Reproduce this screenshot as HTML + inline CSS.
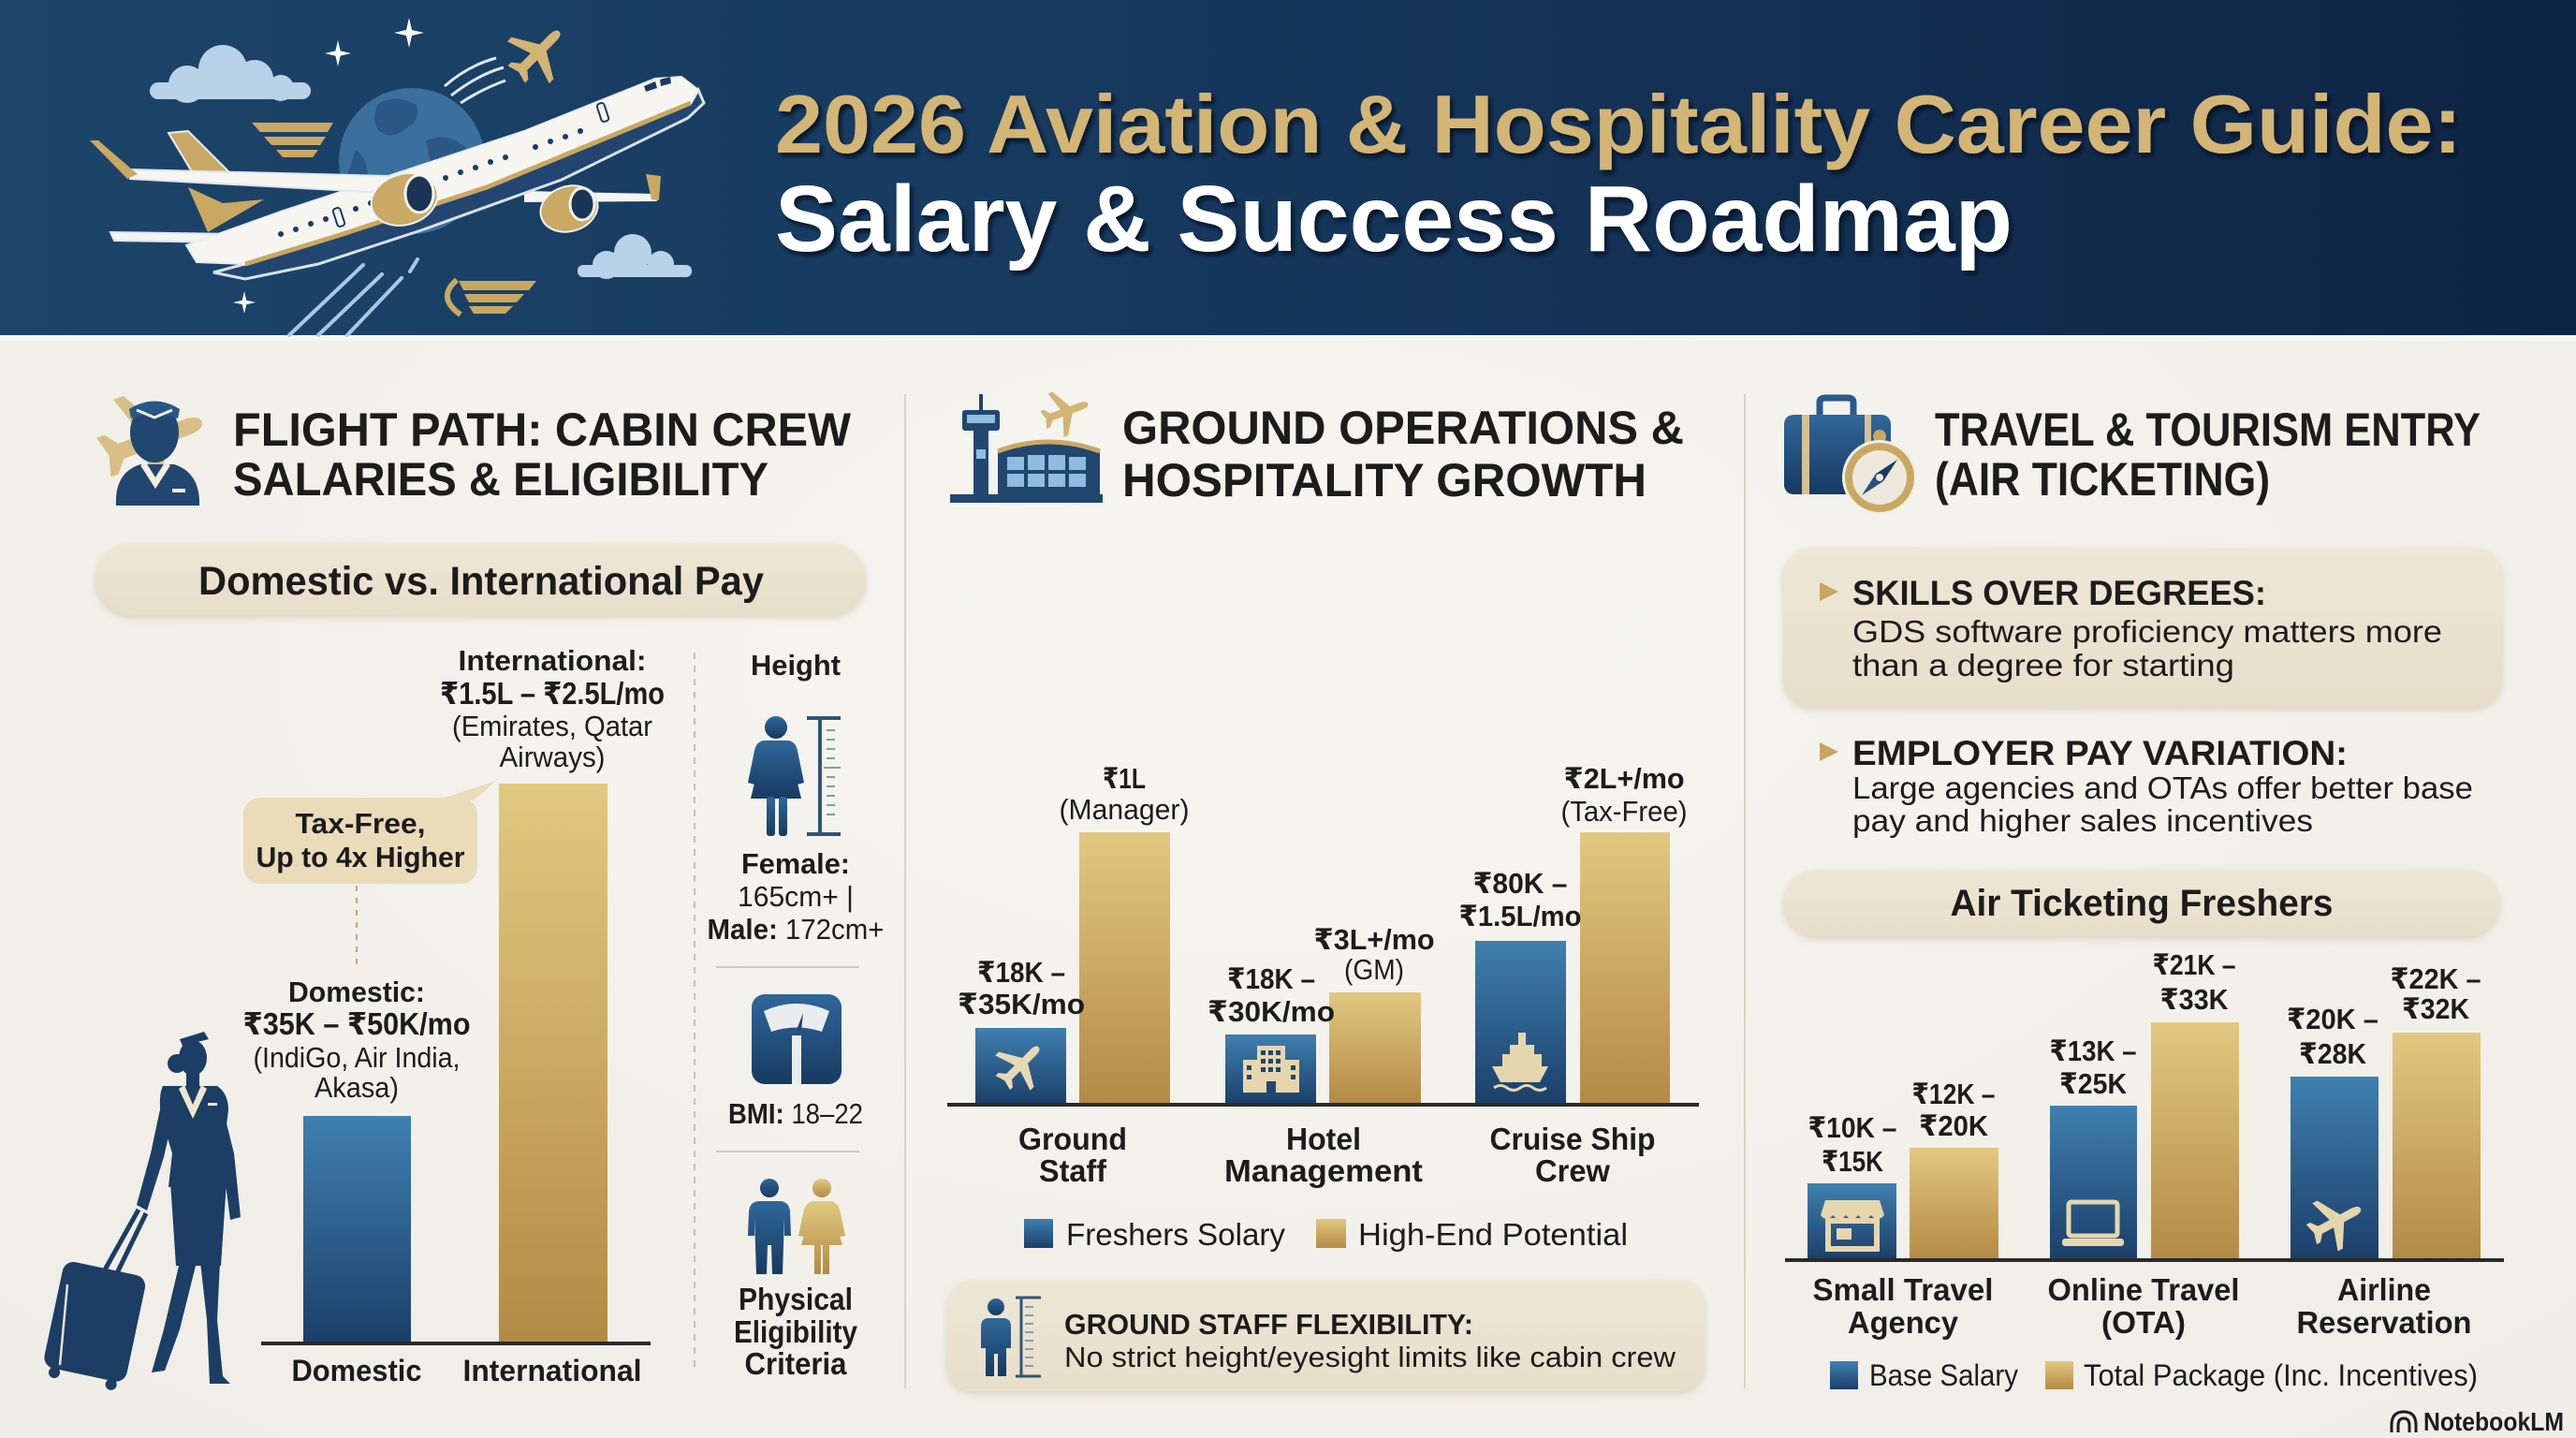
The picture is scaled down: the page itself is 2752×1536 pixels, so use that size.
<!DOCTYPE html>
<html><head><meta charset="utf-8">
<style>
html,body{margin:0;padding:0;background:#f3f2ec;}
svg{display:block;}
text{font-family:"Liberation Sans","DejaVu Sans",sans-serif;fill:#1c1c1c;}
.b{font-weight:bold;}
.r{font-weight:normal;}
</style></head><body>
<svg xmlns="http://www.w3.org/2000/svg" xmlns:xlink="http://www.w3.org/1999/xlink" width="2752" height="1536" viewBox="0 0 2752 1536">
<defs>
<linearGradient id="hdr" x1="0" y1="0" x2="1" y2="0">
 <stop offset="0" stop-color="#1d4569"/>
 <stop offset="0.4" stop-color="#173a5f"/>
 <stop offset="1" stop-color="#0e2444"/>
</linearGradient>
<linearGradient id="blue" x1="0" y1="0" x2="0" y2="1">
 <stop offset="0" stop-color="#3f80b0"/>
 <stop offset="1" stop-color="#1b3f69"/>
</linearGradient>
<linearGradient id="gold" x1="0" y1="0" x2="0" y2="1">
 <stop offset="0" stop-color="#e2c880"/>
 <stop offset="1" stop-color="#b38a45"/>
</linearGradient>
<linearGradient id="navy" x1="0" y1="0" x2="0" y2="1">
 <stop offset="0" stop-color="#2f679a"/>
 <stop offset="1" stop-color="#173a60"/>
</linearGradient>
<linearGradient id="pill" x1="0" y1="0" x2="0" y2="1">
 <stop offset="0" stop-color="#eee7d6"/>
 <stop offset="1" stop-color="#e7dec9"/>
</linearGradient>
<radialGradient id="bodybg" cx="0.5" cy="0.45" r="0.7">
 <stop offset="0" stop-color="#f6f5f0"/>
 <stop offset="1" stop-color="#efede5"/>
</radialGradient>
<filter id="tsh" x="-5%" y="-20%" width="110%" height="150%">
 <feDropShadow dx="3" dy="4" stdDeviation="2" flood-color="#050f1e" flood-opacity="0.85"/>
</filter>
<filter id="soft" x="-5%" y="-20%" width="110%" height="150%">
 <feDropShadow dx="0" dy="3" stdDeviation="4" flood-color="#a89d80" flood-opacity="0.35"/>
</filter>
<symbol id="plane" viewBox="0 0 100 100"><path d="M50 4 C55 4 57 10 57 18 L57 38 L94 60 L94 69 L57 57 L57 78 L68 87 L68 94 L50 89 L32 94 L32 87 L43 78 L43 57 L6 69 L6 60 L43 38 L43 18 C43 10 45 4 50 4 Z"/></symbol>
<symbol id="star" viewBox="-16 -16 32 32"><path d="M0 -16 L3 -3 L16 0 L3 3 L0 16 L-3 3 L-16 0 L-3 -3 Z"/></symbol>
</defs>

<!-- body background -->
<rect x="0" y="0" width="2752" height="1536" fill="url(#bodybg)"/>

<!-- HEADER -->
<rect x="0" y="0" width="2752" height="358" fill="url(#hdr)"/>
<rect x="0" y="358" width="2752" height="6" fill="#f7f7f2"/>

<!-- header illustration -->
<g>
 <!-- globe -->
 <circle cx="440" cy="172" r="78" fill="#3b6f9e"/>
 <path d="M405 110 Q425 100 445 112 Q450 130 432 138 Q420 150 405 140 Q395 125 405 110 Z" fill="#2b5884"/>
 <path d="M455 150 Q480 140 500 160 Q505 185 485 200 Q465 195 460 175 Z" fill="#2b5884"/>
 <path d="M380 160 Q395 170 392 195 Q380 205 370 190 Z" fill="#2b5884"/>
 <!-- clouds -->
 <g fill="#b9d2e8">
  <rect x="160" y="88" width="172" height="18" rx="9"/>
  <circle cx="200" cy="90" r="20"/>
  <circle cx="238" cy="74" r="26"/>
  <circle cx="272" cy="84" r="20"/>
  <circle cx="300" cy="94" r="14"/>
 </g>
 <g fill="#b9d2e8">
  <rect x="617" y="283" width="122" height="13" rx="6"/>
  <circle cx="648" cy="283" r="15"/>
  <circle cx="676" cy="270" r="20"/>
  <circle cx="706" cy="282" r="14"/>
 </g>
 <!-- stars -->
 <use xlink:href="#star" x="347" y="43" width="28" height="28" fill="#ffffff"/>
 <use xlink:href="#star" x="421" y="19" width="32" height="32" fill="#ffffff"/>
 <use xlink:href="#star" x="249" y="311" width="24" height="24" fill="#ffffff"/>
 <!-- small gold plane -->
 <use xlink:href="#plane" x="-36" y="-36" width="72" height="72" transform="translate(574,57) rotate(45)" fill="#d2b474"/>
 <path d="M475 92 Q500 70 530 62 M482 102 Q510 80 538 72 M492 110 Q515 95 540 86" stroke="#dfe8f2" stroke-width="3" fill="none"/>
 <!-- gold wing emblems -->
 <g fill="#c9a864">
  <polygon points="269,131 356,131 350,141 278,141"/>
  <polygon points="282,146 348,146 342,155 290,155"/>
  <polygon points="295,160 340,160 334,168 302,168"/>
  <polygon points="490,300 573,300 565,310 495,310"/>
  <polygon points="496,314 560,314 552,323 501,323"/>
  <polygon points="501,327 548,327 540,335 506,335"/>
 </g>
 <path d="M488 299 Q466 318 492 336" stroke="#c9a864" stroke-width="6" fill="none"/>
 <!-- contrails -->
 <g stroke="#a9c8e2" stroke-width="4" stroke-linecap="round">
  <line x1="388" y1="283" x2="309" y2="358"/>
  <line x1="408" y1="293" x2="340" y2="358"/>
  <line x1="429" y1="297" x2="371" y2="358"/>
  <line x1="446" y1="277" x2="438" y2="290"/>
 </g>
 <!-- main plane -->
 <polygon points="118,248 250,250 252,259 122,257" fill="#f4f4f0" stroke="#dfe6ee" stroke-width="2"/>
 <polygon points="201,200 238,217 282,213 222,248" fill="#c9a864"/>
 <polygon points="560,204 700,207 702,215 560,216" fill="#f4f4f0"/>
 <polygon points="690,186 706,188 704,214 696,213" fill="#c9a864"/>
 <polygon points="746,96 752,110 735,126 600,192 450,246 340,282 262,298 228,291 262,282 360,252 520,200 738,110" fill="#22466f" stroke="#d8e2ec" stroke-width="3"/>
 <polygon points="199,262 300,226 560,140 700,84 728,82 746,96 738,110 520,200 360,252 262,282 210,280" fill="#f6f5f0" stroke="#e8edf2" stroke-width="2"/>
 <polyline points="262,282 360,252 520,200 738,110" fill="none" stroke="#c8a862" stroke-width="5"/>
 <polygon points="180,142 201,140 246,185 209,190" fill="#c9a864" stroke="#e8edf2" stroke-width="2"/>
 <polygon points="688,92 700,87 702,94 690,98" fill="#1c3a60"/>
 <polygon points="705,85 716,82 717,89 706,92" fill="#1c3a60"/>
 <g fill="#1c3a60">
  <circle cx="300" cy="250" r="3"/><circle cx="316" cy="245" r="3"/><circle cx="332" cy="239" r="3"/><circle cx="348" cy="234" r="3"/>
  <circle cx="380" cy="223" r="3"/><circle cx="396" cy="217" r="3"/><circle cx="412" cy="212" r="3"/><circle cx="428" cy="206" r="3"/><circle cx="444" cy="201" r="3"/>
  <circle cx="476" cy="190" r="3"/><circle cx="492" cy="184" r="3"/><circle cx="508" cy="179" r="3"/><circle cx="524" cy="173" r="3"/><circle cx="540" cy="168" r="3"/>
  <circle cx="572" cy="157" r="3"/><circle cx="588" cy="151" r="3"/><circle cx="604" cy="146" r="3"/><circle cx="620" cy="140" r="3"/>
 </g>
 <rect x="358" y="222" width="8" height="20" rx="3" fill="none" stroke="#1c3a60" stroke-width="2" transform="rotate(-18 362 232)"/>
 <rect x="640" y="110" width="8" height="20" rx="3" fill="none" stroke="#1c3a60" stroke-width="2" transform="rotate(-18 644 120)"/>
 <polygon points="139,181 415,188 422,200 395,205 139,191" fill="#f6f5f0" stroke="#dfe6ee" stroke-width="2"/>
 <polygon points="96,150 105,150 147,186 136,191" fill="#c9a864"/>
 <ellipse cx="432" cy="213" rx="36" ry="27" transform="rotate(-17 432 213)" fill="#c9a964" stroke="#eef1f4" stroke-width="2"/>
 <ellipse cx="448" cy="207" rx="15" ry="20" fill="#1b3556" stroke="#f4f4f0" stroke-width="3"/>
 <ellipse cx="608" cy="223" rx="31" ry="24" transform="rotate(-17 608 223)" fill="#c9a964" stroke="#eef1f4" stroke-width="2"/>
 <ellipse cx="622" cy="218" rx="13" ry="17" fill="#1b3556" stroke="#f4f4f0" stroke-width="3"/>
</g>

<!-- Title -->
<text x="828" y="163" class="b" font-size="88" textLength="1802" lengthAdjust="spacingAndGlyphs" style="fill:#d3b574" filter="url(#tsh)">2026 Aviation &amp; Hospitality Career Guide:</text>
<text x="828" y="268" class="b" font-size="100" textLength="1322" lengthAdjust="spacingAndGlyphs" style="fill:#ffffff" filter="url(#tsh)">Salary &amp; Success Roadmap</text>

<!-- column separators -->
<line x1="967" y1="421" x2="967" y2="1483" stroke="#d8d4c8" stroke-width="2"/>
<line x1="1864" y1="421" x2="1864" y2="1483" stroke="#d8d4c8" stroke-width="2"/>

<!-- ============ COLUMN 1 ============ -->
<!-- icon: cabin crew bust + plane -->
<use xlink:href="#plane" x="-62" y="-62" width="124" height="124" transform="translate(162,470) rotate(70)" fill="#d8bf88"/>
<g>
 <path d="M124 540 Q122 505 150 496 L186 496 Q214 505 213 540 Z" fill="#21466f"/>
 <ellipse cx="165" cy="462" rx="26" ry="32" fill="#21466f"/>
 <path d="M138 437 Q165 420 192 437 L190 447 Q165 438 140 447 Z" fill="#2a5685"/>
 <path d="M146 438 L165 446 L184 438" stroke="#eef0f2" stroke-width="3" fill="none"/>
 <path d="M150 497 L166 522 L182 497 L176 494 L166 510 L156 494 Z" fill="#f1ede2"/>
 <rect x="184" y="522" width="14" height="4" fill="#f1ede2"/>
</g>
<text x="249" y="476" class="b" font-size="50" textLength="660" lengthAdjust="spacingAndGlyphs">FLIGHT PATH: CABIN CREW</text>
<text x="249" y="529" class="b" font-size="50" textLength="572" lengthAdjust="spacingAndGlyphs">SALARIES &amp; ELIGIBILITY</text>

<rect x="102" y="580" width="823" height="77" rx="38" fill="url(#pill)" filter="url(#soft)"/>
<text x="212" y="635" class="b" font-size="43" textLength="604" lengthAdjust="spacingAndGlyphs">Domestic vs. International Pay</text>

<!-- chart -->
<rect x="324" y="1192" width="115" height="243" fill="url(#blue)"/>
<rect x="533" y="837" width="116" height="598" fill="url(#gold)"/>
<line x1="279" y1="1435" x2="695" y2="1435" stroke="#2a2a2a" stroke-width="4"/>
<text x="381" y="1475" class="b" font-size="32" text-anchor="middle" textLength="139" lengthAdjust="spacingAndGlyphs">Domestic</text>
<text x="590" y="1475" class="b" font-size="32" text-anchor="middle" textLength="191" lengthAdjust="spacingAndGlyphs">International</text>

<text x="381" y="1070" class="b" font-size="31" text-anchor="middle" textLength="146" lengthAdjust="spacingAndGlyphs">Domestic:</text>
<text x="381" y="1105" class="b" font-size="33" text-anchor="middle" textLength="243" lengthAdjust="spacingAndGlyphs">₹35K – ₹50K/mo</text>
<text x="381" y="1140" class="r" font-size="31" text-anchor="middle" textLength="221" lengthAdjust="spacingAndGlyphs">(IndiGo, Air India,</text>
<text x="381" y="1172" class="r" font-size="31" text-anchor="middle" textLength="90" lengthAdjust="spacingAndGlyphs">Akasa)</text>

<text x="590" y="716" class="b" font-size="31" text-anchor="middle" textLength="201" lengthAdjust="spacingAndGlyphs">International:</text>
<text x="590" y="752" class="b" font-size="33" text-anchor="middle" textLength="240" lengthAdjust="spacingAndGlyphs">₹1.5L – ₹2.5L/mo</text>
<text x="590" y="786" class="r" font-size="31" text-anchor="middle" textLength="214" lengthAdjust="spacingAndGlyphs">(Emirates, Qatar</text>
<text x="590" y="819" class="r" font-size="31" text-anchor="middle" textLength="113" lengthAdjust="spacingAndGlyphs">Airways)</text>

<!-- callout -->
<rect x="260" y="852" width="250" height="92" rx="18" fill="#eadcb9"/>
<polygon points="466,855 506,855 530,834" fill="#eadcb9"/>
<text x="385" y="890" class="b" font-size="31" text-anchor="middle" textLength="139" lengthAdjust="spacingAndGlyphs">Tax-Free,</text>
<text x="385" y="926" class="b" font-size="31" text-anchor="middle" textLength="223" lengthAdjust="spacingAndGlyphs">Up to 4x Higher</text>
<line x1="381" y1="946" x2="381" y2="1033" stroke="#bfa978" stroke-width="2" stroke-dasharray="6 7"/>

<!-- dashed divider -->
<line x1="742" y1="697" x2="742" y2="1464" stroke="#c4c0b5" stroke-width="2" stroke-dasharray="7 7"/>

<!-- right sub-column -->
<text x="850" y="721" class="b" font-size="31" text-anchor="middle" textLength="96" lengthAdjust="spacingAndGlyphs">Height</text>
<g fill="url(#navy)">
 <circle cx="829" cy="777" r="12"/>
 <path d="M816 791 L842 791 Q850 792 852 802 L859 836 L852 838 L846 812 L856 853 L802 853 L812 812 L806 838 L799 836 L806 802 Q808 792 816 791 Z"/>
 <rect x="819" y="851" width="9" height="42" rx="3"/>
 <rect x="832" y="851" width="9" height="42" rx="3"/>
</g>
<g stroke="#2f5577" stroke-width="4">
 <line x1="876" y1="767" x2="876" y2="891"/>
 <line x1="862" y1="767" x2="898" y2="767"/>
 <line x1="862" y1="891" x2="898" y2="891"/>
</g>
<g stroke="#8a99a8" stroke-width="2">
 <line x1="883" y1="780" x2="892" y2="780"/><line x1="883" y1="790" x2="892" y2="790"/><line x1="883" y1="800" x2="892" y2="800"/>
 <line x1="883" y1="810" x2="892" y2="810"/><line x1="880" y1="820" x2="898" y2="820"/><line x1="883" y1="830" x2="892" y2="830"/>
 <line x1="883" y1="840" x2="892" y2="840"/><line x1="883" y1="850" x2="892" y2="850"/><line x1="883" y1="860" x2="892" y2="860"/><line x1="883" y1="870" x2="892" y2="870"/>
</g>
<text x="850" y="933" class="b" font-size="31" text-anchor="middle" textLength="116" lengthAdjust="spacingAndGlyphs">Female:</text>
<text x="850" y="968" class="r" font-size="31" text-anchor="middle" textLength="124" lengthAdjust="spacingAndGlyphs">165cm+ |</text>
<text x="850" y="1003" font-size="31" text-anchor="middle" textLength="189" lengthAdjust="spacingAndGlyphs"><tspan class="b">Male:</tspan><tspan class="r"> 172cm+</tspan></text>
<line x1="765" y1="1033" x2="918" y2="1033" stroke="#cfcabd" stroke-width="2"/>
<!-- scale icon -->
<rect x="803" y="1062" width="96" height="96" rx="14" fill="url(#navy)"/>
<path d="M816 1080 Q851 1064 886 1080 L878 1102 Q851 1093 824 1102 Z" fill="#e9edf0"/>
<path d="M851 1100 L858 1082 L856 1101 Z" fill="#21466f"/>
<rect x="846" y="1106" width="10" height="52" fill="#e9edf0"/>
<text x="850" y="1200" font-size="31" text-anchor="middle" textLength="144" lengthAdjust="spacingAndGlyphs"><tspan class="b">BMI:</tspan><tspan class="r"> 18–22</tspan></text>
<line x1="765" y1="1230" x2="918" y2="1230" stroke="#cfcabd" stroke-width="2"/>
<!-- persons -->
<g fill="url(#navy)">
 <circle cx="822" cy="1269" r="10"/>
 <path d="M810 1283 L834 1283 Q843 1284 844 1294 L845 1320 L838 1320 L838 1300 L836 1361 L825 1361 L824 1330 L820 1330 L819 1361 L808 1361 L806 1300 L806 1320 L799 1320 L800 1294 Q801 1284 810 1283 Z"/>
</g>
<g fill="url(#gold)">
 <circle cx="878" cy="1269" r="10"/>
 <path d="M868 1283 L888 1283 Q896 1285 898 1296 L903 1320 L897 1321 L892 1303 L900 1330 L886 1330 L886 1361 L879 1361 L879 1330 L877 1330 L877 1361 L870 1361 L870 1330 L856 1330 L864 1303 L859 1321 L853 1320 L858 1296 Q860 1285 868 1283 Z"/>
</g>
<text x="850" y="1399" class="b" font-size="33" text-anchor="middle" textLength="122" lengthAdjust="spacingAndGlyphs">Physical</text>
<text x="850" y="1434" class="b" font-size="33" text-anchor="middle" textLength="132" lengthAdjust="spacingAndGlyphs">Eligibility</text>
<text x="850" y="1468" class="b" font-size="33" text-anchor="middle" textLength="109" lengthAdjust="spacingAndGlyphs">Criteria</text>

<!-- flight attendant silhouette -->
<g fill="#1c3d64">
 <g transform="rotate(12 102 1413)">
  <rect x="56" y="1354" width="90" height="116" rx="12"/>
  <circle cx="70" cy="1474" r="6"/><circle cx="132" cy="1474" r="6"/>
 </g>
 <path d="M72 1372 L64 1458" stroke="#e9e2cf" stroke-width="2.5" fill="none"/>
 <line x1="110" y1="1360" x2="148" y2="1292" stroke="#1c3d64" stroke-width="5"/>
 <line x1="124" y1="1362" x2="156" y2="1296" stroke="#1c3d64" stroke-width="5"/>
 <ellipse cx="206" cy="1130" rx="15" ry="19"/>
 <circle cx="189" cy="1136" r="10"/>
 <path d="M192 1110 L218 1102 L223 1110 L195 1117 Z"/>
 <rect x="199" y="1146" width="14" height="16"/>
 <path d="M174 1160 L232 1160 Q244 1168 244 1186 L238 1232 L244 1266 L180 1268 L184 1232 L172 1192 Q169 1170 174 1160 Z"/>
 <path d="M182 1262 L242 1262 L236 1352 L188 1352 Z"/>
 <path d="M175 1166 L161 1232 L146 1287 L157 1293 L175 1236 L185 1192 Z"/>
 <path d="M234 1168 L250 1232 L257 1300 L246 1303 L238 1242 L229 1196 Z"/>
 <path d="M192 1348 L210 1348 L192 1420 L176 1464 L162 1466 L175 1420 Z"/>
 <path d="M214 1348 L235 1348 L232 1410 L238 1470 L246 1478 L224 1478 L221 1410 Z"/>
</g>
<path d="M197 1159 L206 1180 L215 1159 L221 1163 L206 1195 L191 1163 Z" fill="#efe6cf"/>
<rect x="222" y="1178" width="10" height="3" fill="#efe6cf"/>

<!-- ============ COLUMN 2 ============ -->
<!-- icon tower + terminal -->
<g>
 <line x1="1048" y1="421" x2="1048" y2="440" stroke="#21466f" stroke-width="4"/>
 <rect x="1028" y="438" width="40" height="22" rx="3" fill="#21466f"/>
 <rect x="1033" y="443" width="30" height="9" fill="#8fbde0"/>
 <rect x="1040" y="460" width="16" height="70" fill="#21466f"/>
 <rect x="1043" y="480" width="10" height="10" fill="#8fbde0"/>
 <path d="M1066 530 L1066 482 Q1120 462 1175 482 L1175 530 Z" fill="#21466f"/>
 <path d="M1066 482 Q1120 462 1175 482" stroke="#c9a864" stroke-width="5" fill="none"/>
 <g fill="#8fbde0">
  <rect x="1076" y="488" width="18" height="14"/><rect x="1098" y="486" width="18" height="16"/><rect x="1120" y="486" width="18" height="16"/><rect x="1142" y="488" width="18" height="14"/>
  <rect x="1076" y="506" width="18" height="14"/><rect x="1098" y="506" width="18" height="14"/><rect x="1120" y="506" width="18" height="14"/><rect x="1142" y="506" width="18" height="14"/>
 </g>
 <rect x="1015" y="528" width="163" height="9" fill="#21466f"/>
 <use xlink:href="#plane" x="-28" y="-28" width="56" height="56" transform="translate(1138,440) rotate(70)" fill="#d2b474"/>
</g>
<text x="1199" y="474" class="b" font-size="50" textLength="600" lengthAdjust="spacingAndGlyphs">GROUND OPERATIONS &amp;</text>
<text x="1199" y="530" class="b" font-size="50" textLength="560" lengthAdjust="spacingAndGlyphs">HOSPITALITY GROWTH</text>

<!-- bars -->
<rect x="1042" y="1098" width="97" height="82" fill="url(#blue)"/>
<rect x="1153" y="889" width="97" height="291" fill="url(#gold)"/>
<rect x="1309" y="1105" width="97" height="75" fill="url(#blue)"/>
<rect x="1420" y="1060" width="98" height="120" fill="url(#gold)"/>
<rect x="1576" y="1005" width="97" height="175" fill="url(#blue)"/>
<rect x="1688" y="889" width="96" height="291" fill="url(#gold)"/>
<line x1="1012" y1="1180" x2="1815" y2="1180" stroke="#2a2a2a" stroke-width="4"/>

<!-- bar icons -->
<use xlink:href="#plane" x="-30" y="-30" width="60" height="60" transform="translate(1090,1138) rotate(45)" fill="#e8d9b4"/>
<g fill="#e6d6ae">
 <rect x="1343" y="1117" width="30" height="50"/>
 <rect x="1328" y="1132" width="15" height="35"/>
 <rect x="1373" y="1132" width="15" height="35"/>
</g>
<g fill="#21466f">
 <rect x="1347" y="1122" width="5" height="5"/><rect x="1355" y="1122" width="5" height="5"/><rect x="1363" y="1122" width="5" height="5"/>
 <rect x="1347" y="1131" width="5" height="5"/><rect x="1355" y="1131" width="5" height="5"/><rect x="1363" y="1131" width="5" height="5"/>
 <rect x="1347" y="1140" width="5" height="5"/><rect x="1355" y="1140" width="5" height="5"/><rect x="1363" y="1140" width="5" height="5"/>
 <rect x="1332" y="1138" width="5" height="5"/><rect x="1332" y="1148" width="5" height="5"/>
 <rect x="1379" y="1138" width="5" height="5"/><rect x="1379" y="1148" width="5" height="5"/>
 <rect x="1353" y="1155" width="10" height="12"/>
</g>
<g fill="#e6d6ae">
 <rect x="1622" y="1103" width="8" height="14"/>
 <rect x="1613" y="1116" width="26" height="11"/>
 <rect x="1605" y="1126" width="42" height="13"/>
 <path d="M1594 1139 L1654 1139 L1645 1156 L1603 1156 Z"/>
</g>
<path d="M1596 1162 q7 -5 14 0 t14 0 t14 0 t14 0" stroke="#e6d6ae" stroke-width="3" fill="none"/>

<!-- value labels -->
<text x="1091" y="1049" class="b" font-size="31" text-anchor="middle" textLength="94" lengthAdjust="spacingAndGlyphs">₹18K –</text>
<text x="1091" y="1083" class="b" font-size="31" text-anchor="middle" textLength="136" lengthAdjust="spacingAndGlyphs">₹35K/mo</text>
<text x="1201" y="842" class="b" font-size="31" text-anchor="middle" textLength="46" lengthAdjust="spacingAndGlyphs">₹1L</text>
<text x="1201" y="875" class="r" font-size="31" text-anchor="middle" textLength="139" lengthAdjust="spacingAndGlyphs">(Manager)</text>
<text x="1358" y="1056" class="b" font-size="31" text-anchor="middle" textLength="94" lengthAdjust="spacingAndGlyphs">₹18K –</text>
<text x="1358" y="1091" class="b" font-size="31" text-anchor="middle" textLength="136" lengthAdjust="spacingAndGlyphs">₹30K/mo</text>
<text x="1468" y="1014" class="b" font-size="31" text-anchor="middle" textLength="129" lengthAdjust="spacingAndGlyphs">₹3L+/mo</text>
<text x="1468" y="1046" class="r" font-size="31" text-anchor="middle" textLength="64" lengthAdjust="spacingAndGlyphs">(GM)</text>
<text x="1624" y="954" class="b" font-size="31" text-anchor="middle" textLength="101" lengthAdjust="spacingAndGlyphs">₹80K –</text>
<text x="1624" y="989" class="b" font-size="31" text-anchor="middle" textLength="131" lengthAdjust="spacingAndGlyphs">₹1.5L/mo</text>
<text x="1735" y="842" class="b" font-size="31" text-anchor="middle" textLength="129" lengthAdjust="spacingAndGlyphs">₹2L+/mo</text>
<text x="1735" y="877" class="r" font-size="31" text-anchor="middle" textLength="135" lengthAdjust="spacingAndGlyphs">(Tax-Free)</text>

<!-- category labels -->
<text x="1146" y="1228" class="b" font-size="33" text-anchor="middle" textLength="116" lengthAdjust="spacingAndGlyphs">Ground</text>
<text x="1146" y="1262" class="b" font-size="33" text-anchor="middle" textLength="72" lengthAdjust="spacingAndGlyphs">Staff</text>
<text x="1414" y="1228" class="b" font-size="33" text-anchor="middle" textLength="80" lengthAdjust="spacingAndGlyphs">Hotel</text>
<text x="1414" y="1262" class="b" font-size="33" text-anchor="middle" textLength="212" lengthAdjust="spacingAndGlyphs">Management</text>
<text x="1680" y="1228" class="b" font-size="33" text-anchor="middle" textLength="177" lengthAdjust="spacingAndGlyphs">Cruise Ship</text>
<text x="1680" y="1262" class="b" font-size="33" text-anchor="middle" textLength="80" lengthAdjust="spacingAndGlyphs">Crew</text>

<!-- legend -->
<rect x="1094" y="1302" width="31" height="31" fill="url(#blue)"/>
<text x="1139" y="1330" class="r" font-size="33" textLength="234" lengthAdjust="spacingAndGlyphs">Freshers Solary</text>
<rect x="1406" y="1302" width="32" height="31" fill="url(#gold)"/>
<text x="1451" y="1330" class="r" font-size="33" textLength="288" lengthAdjust="spacingAndGlyphs">High-End Potential</text>

<!-- flexibility box -->
<rect x="1012" y="1367" width="809" height="119" rx="28" fill="url(#pill)" filter="url(#soft)"/>
<g fill="url(#navy)">
 <circle cx="1064" cy="1396" r="9"/>
 <path d="M1055 1408 L1073 1408 Q1080 1409 1080 1417 L1080 1440 L1075 1440 L1075 1470 L1066 1470 L1066 1446 L1062 1446 L1062 1470 L1053 1470 L1053 1440 L1048 1440 L1048 1417 Q1048 1409 1055 1408 Z"/>
</g>
<g stroke="#2f5577" stroke-width="3">
 <line x1="1091" y1="1386" x2="1091" y2="1470"/>
 <line x1="1085" y1="1386" x2="1112" y2="1386"/>
 <line x1="1085" y1="1470" x2="1112" y2="1470"/>
</g>
<g stroke="#8a99a8" stroke-width="2">
 <line x1="1095" y1="1396" x2="1104" y2="1396"/><line x1="1095" y1="1405" x2="1104" y2="1405"/><line x1="1095" y1="1414" x2="1104" y2="1414"/>
 <line x1="1095" y1="1423" x2="1104" y2="1423"/><line x1="1095" y1="1432" x2="1104" y2="1432"/><line x1="1095" y1="1441" x2="1104" y2="1441"/>
 <line x1="1095" y1="1450" x2="1104" y2="1450"/><line x1="1095" y1="1459" x2="1104" y2="1459"/>
</g>
<text x="1137" y="1425" class="b" font-size="31" textLength="437" lengthAdjust="spacingAndGlyphs">GROUND STAFF FLEXIBILITY:</text>
<text x="1137" y="1460" class="r" font-size="31" textLength="653" lengthAdjust="spacingAndGlyphs">No strict height/eyesight limits like cabin crew</text>

<!-- ============ COLUMN 3 ============ -->
<!-- suitcase + compass -->
<g>
 <path d="M1944 443 L1944 430 Q1944 425 1950 425 L1974 425 Q1980 425 1980 430 L1980 443" stroke="#2a5a8a" stroke-width="7" fill="none"/>
 <rect x="1906" y="443" width="114" height="85" rx="10" fill="url(#navy)"/>
 <rect x="1925" y="443" width="8" height="85" fill="#d6c192"/>
 <rect x="1992" y="443" width="7" height="85" fill="#d6c192"/>
 <circle cx="2008" cy="466" r="7" fill="#c9a864"/>
 <circle cx="2008" cy="510" r="40" fill="#f3efe4"/>
 <circle cx="2008" cy="510" r="37" fill="#c9a864"/>
 <circle cx="2008" cy="510" r="29" fill="#ede8dc"/>
 <path d="M2027 491 L2012 514 L2004 506 Z" fill="#1c3a60"/>
 <path d="M1989 529 L2004 506 L2012 514 Z" fill="#2a4f7a"/>
 <circle cx="2008" cy="510" r="4" fill="#ede8dc"/>
</g>
<text x="2067" y="476" class="b" font-size="50" textLength="583" lengthAdjust="spacingAndGlyphs">TRAVEL &amp; TOURISM ENTRY</text>
<text x="2067" y="529" class="b" font-size="50" textLength="358" lengthAdjust="spacingAndGlyphs">(AIR TICKETING)</text>

<rect x="1905" y="585" width="768" height="170" rx="30" fill="url(#pill)" filter="url(#soft)"/>
<polygon points="1944,622 1964,632 1944,642" fill="#c6a55e"/>
<text x="1979" y="646" class="b" font-size="37" textLength="442" lengthAdjust="spacingAndGlyphs">SKILLS OVER DEGREES:</text>
<text x="1979" y="686" class="r" font-size="33" textLength="630" lengthAdjust="spacingAndGlyphs">GDS software proficiency matters more</text>
<text x="1979" y="722" class="r" font-size="33" textLength="408" lengthAdjust="spacingAndGlyphs">than a degree for starting</text>

<polygon points="1944,793 1964,803 1944,813" fill="#c6a55e"/>
<text x="1979" y="817" class="b" font-size="37" textLength="529" lengthAdjust="spacingAndGlyphs">EMPLOYER PAY VARIATION:</text>
<text x="1979" y="853" class="r" font-size="33" textLength="663" lengthAdjust="spacingAndGlyphs">Large agencies and OTAs offer better base</text>
<text x="1979" y="888" class="r" font-size="33" textLength="492" lengthAdjust="spacingAndGlyphs">pay and higher sales incentives</text>

<rect x="1905" y="929" width="765" height="71" rx="35" fill="url(#pill)" filter="url(#soft)"/>
<text x="2288" y="978" class="b" font-size="40" text-anchor="middle" textLength="409" lengthAdjust="spacingAndGlyphs">Air Ticketing Freshers</text>

<!-- bars -->
<rect x="1931" y="1264" width="95" height="82" fill="url(#blue)"/>
<rect x="2040" y="1226" width="95" height="120" fill="url(#gold)"/>
<rect x="2190" y="1181" width="93" height="165" fill="url(#blue)"/>
<rect x="2298" y="1092" width="94" height="254" fill="url(#gold)"/>
<rect x="2447" y="1150" width="94" height="196" fill="url(#blue)"/>
<rect x="2556" y="1103" width="94" height="243" fill="url(#gold)"/>
<line x1="1907" y1="1346" x2="2675" y2="1346" stroke="#2a2a2a" stroke-width="4"/>

<!-- bar icons -->
<g fill="#e6d6ae">
 <path d="M1950 1282 L2008 1282 L2013 1298 Q2006 1306 1999 1298 Q1992 1306 1985 1298 Q1979 1306 1972 1298 Q1965 1306 1958 1298 Q1951 1306 1945 1298 Z"/>
</g>
<rect x="1953" y="1304" width="52" height="30" fill="none" stroke="#e6d6ae" stroke-width="6"/>
<rect x="1962" y="1312" width="16" height="12" fill="#e6d6ae"/>
<rect x="2210" y="1284" width="52" height="36" rx="3" fill="none" stroke="#e6d6ae" stroke-width="5"/>
<rect x="2203" y="1323" width="66" height="8" rx="3" fill="#e6d6ae"/>
<use xlink:href="#plane" x="-33" y="-33" width="66" height="66" transform="translate(2495,1305) rotate(62)" fill="#e6d6ae"/>

<!-- value labels -->
<text x="1979" y="1215" class="b" font-size="31" text-anchor="middle" textLength="95" lengthAdjust="spacingAndGlyphs">₹10K –</text>
<text x="1979" y="1251" class="b" font-size="31" text-anchor="middle" textLength="66" lengthAdjust="spacingAndGlyphs">₹15K</text>
<text x="2087" y="1179" class="b" font-size="31" text-anchor="middle" textLength="89" lengthAdjust="spacingAndGlyphs">₹12K –</text>
<text x="2087" y="1213" class="b" font-size="31" text-anchor="middle" textLength="74" lengthAdjust="spacingAndGlyphs">₹20K</text>
<text x="2236" y="1133" class="b" font-size="31" text-anchor="middle" textLength="93" lengthAdjust="spacingAndGlyphs">₹13K –</text>
<text x="2236" y="1168" class="b" font-size="31" text-anchor="middle" textLength="72" lengthAdjust="spacingAndGlyphs">₹25K</text>
<text x="2344" y="1041" class="b" font-size="31" text-anchor="middle" textLength="89" lengthAdjust="spacingAndGlyphs">₹21K –</text>
<text x="2344" y="1078" class="b" font-size="31" text-anchor="middle" textLength="73" lengthAdjust="spacingAndGlyphs">₹33K</text>
<text x="2492" y="1099" class="b" font-size="31" text-anchor="middle" textLength="98" lengthAdjust="spacingAndGlyphs">₹20K –</text>
<text x="2492" y="1136" class="b" font-size="31" text-anchor="middle" textLength="72" lengthAdjust="spacingAndGlyphs">₹28K</text>
<text x="2602" y="1056" class="b" font-size="31" text-anchor="middle" textLength="97" lengthAdjust="spacingAndGlyphs">₹22K –</text>
<text x="2602" y="1088" class="b" font-size="31" text-anchor="middle" textLength="72" lengthAdjust="spacingAndGlyphs">₹32K</text>

<!-- category labels -->
<text x="2033" y="1389" class="b" font-size="33" text-anchor="middle" textLength="193" lengthAdjust="spacingAndGlyphs">Small Travel</text>
<text x="2033" y="1424" class="b" font-size="33" text-anchor="middle" textLength="118" lengthAdjust="spacingAndGlyphs">Agency</text>
<text x="2290" y="1389" class="b" font-size="33" text-anchor="middle" textLength="205" lengthAdjust="spacingAndGlyphs">Online Travel</text>
<text x="2290" y="1424" class="b" font-size="33" text-anchor="middle" textLength="90" lengthAdjust="spacingAndGlyphs">(OTA)</text>
<text x="2547" y="1389" class="b" font-size="33" text-anchor="middle" textLength="100" lengthAdjust="spacingAndGlyphs">Airline</text>
<text x="2547" y="1424" class="b" font-size="33" text-anchor="middle" textLength="187" lengthAdjust="spacingAndGlyphs">Reservation</text>

<!-- legend -->
<rect x="1955" y="1454" width="30" height="30" fill="url(#blue)"/>
<text x="1997" y="1480" class="r" font-size="32" textLength="159" lengthAdjust="spacingAndGlyphs">Base Salary</text>
<rect x="2185" y="1454" width="30" height="30" fill="url(#gold)"/>
<text x="2226" y="1480" class="r" font-size="32" textLength="421" lengthAdjust="spacingAndGlyphs">Total Package (Inc. Incentives)</text>

<!-- NotebookLM -->
<path d="M2555 1530 L2555 1522 Q2555 1508 2568 1508 Q2581 1508 2581 1522 L2581 1530 M2562 1530 L2562 1523 Q2562 1515 2568 1515 Q2574 1515 2574 1523 L2574 1530" stroke="#1c1c1c" stroke-width="3" fill="none"/>
<text x="2589" y="1528" class="b" font-size="28" textLength="150" lengthAdjust="spacingAndGlyphs">NotebookLM</text>
</svg>
</body></html>
